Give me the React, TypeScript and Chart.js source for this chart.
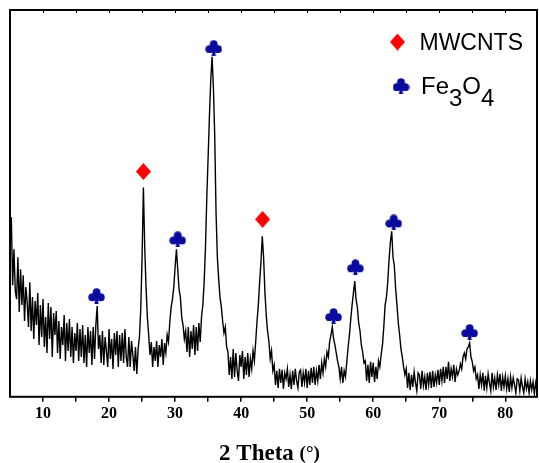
import React, { useEffect, useRef } from "react";
import { Chart, registerables } from "chart.js";

Chart.register(...registerables);

// 2θ grid of the scan (degrees)
const thetaStart = 5;
const thetaStep = 0.2;

// XRD intensity (a.u.), one value per 0.2° from 5.0° to 84.8°
const intensity = [
  150, 180, 112, 148, 106, // 5
  98, 140, 85, 128, 92, // 6
  122, 76, 110, 95, 70, // 7
  115, 66, 100, 58, 96, // 8
  72, 104, 52, 92, 60, // 9
  98, 50, 80, 44, 94, // 10
  58, 90, 40, 84, 62, // 11
  86, 44, 76, 38, 70, // 12
  52, 82, 36, 74, 46, // 13
  78, 40, 70, 34, 64, // 14
  46, 74, 36, 68, 40, // 15
  72, 34, 62, 30, 70, // 16
  44, 66, 32, 70, 38, // 17
  72, 91, 48, 62, 34, // 18
  66, 32, 60, 46, 30, // 19
  68, 38, 58, 28, 64, // 20
  42, 66, 30, 62, 36, // 21
  64, 34, 68, 40, 30, // 22
  60, 30, 56, 42, 26, // 23
  50, 23, 48, 60, 88, // 24
  140, 210, 150, 110, 80, // 25
  62, 42, 55, 30, 50, // 26
  36, 56, 30, 52, 40, // 27
  58, 32, 54, 44, 62, // 28
  55, 75, 90, 98, 110, // 29
  130, 148, 128, 108, 100, // 30
  80, 72, 58, 66, 45, // 31
  70, 40, 66, 48, 72, // 32
  42, 70, 46, 74, 55, // 33
  80, 92, 115, 150, 200, // 34
  240, 282, 318, 341, 310, // 35
  262, 185, 140, 118, 100, // 36
  90, 76, 64, 70, 50, // 37
  45, 22, 40, 18, 48, // 38
  20, 44, 26, 16, 42, // 39
  30, 46, 18, 40, 22, // 40
  44, 20, 38, 28, 46, // 41
  36, 55, 75, 92, 115, // 42
  135, 161, 140, 105, 82, // 43
  66, 56, 38, 46, 26, // 44
  32, 12, 26, 9, 28, // 45
  14, 27, 8, 24, 18, // 46
  28, 10, 22, 8, 26, // 47
  12, 28, 16, 9, 25, // 48
  27, 10, 24, 14, 28, // 49
  9, 26, 12, 29, 14, // 50
  30, 12, 26, 16, 32, // 51
  18, 34, 24, 38, 30, // 52
  45, 40, 55, 62, 70, // 53
  58, 52, 44, 36, 30, // 54
  18, 30, 14, 26, 20, // 55
  35, 50, 62, 78, 92, // 56
  104, 116, 98, 90, 74, // 57
  66, 52, 45, 34, 36, // 58
  16, 32, 14, 35, 20, // 59
  34, 15, 30, 18, 36, // 60
  30, 42, 52, 70, 92, // 61
  100, 115, 138, 155, 166, // 62
  140, 131, 108, 92, 74, // 63
  62, 48, 40, 30, 22, // 64
  28, 9, 24, 7, 22, // 65
  10, 25, 14, 6, 24, // 66
  22, 8, 26, 11, 20, // 67
  7, 24, 12, 25, 9, // 68
  26, 10, 22, 14, 27, // 69
  12, 28, 16, 30, 14, // 70
  30, 18, 35, 16, 28, // 71
  20, 32, 15, 28, 22, // 72
  26, 33, 28, 40, 44, // 73
  38, 48, 50, 54, 40, // 74
  35, 26, 30, 18, 22, // 75
  8, 22, 12, 24, 6, // 76
  21, 9, 23, 14, 6, // 77
  24, 10, 19, 7, 22, // 78
  12, 23, 6, 20, 10, // 79
  21, 8, 18, 5, 20, // 80
  9, 19, 12, 4, 18, // 81
  17, 6, 19, 10, 4, // 82
  18, 8, 15, 4, 16, // 83
  7, 15, 3, 14, 6, // 84
];

// Peak markers
const mwcntTheta = [25.2, 43.25];
const mwcntMark = [226, 178];
const fe3o4Theta = [18.1, 30.4, 35.85, 54.0, 57.3, 63.1, 74.6];
const fe3o4Mark = [101, 158, 350, 81, 130, 175, 65];

// Axis
const xMin = 5;
const xMax = 84.8;
const xLabelTicks = [10, 20, 30, 40, 50, 60, 70, 80];
const xTitle = "2 Theta";
const xUnit = "(°)";
const legendMwcnt = "MWCNTS";
const legendFe = ["Fe", "3", "O", "4"];

const CLUB_COLOR = "#0a0a9e";
const DIAMOND_COLOR = "#ff0000";

function makeDiamond(): HTMLCanvasElement {
  const c = document.createElement("canvas");
  c.width = 15;
  c.height = 17;
  const g = c.getContext("2d")!;
  g.fillStyle = DIAMOND_COLOR;
  g.beginPath();
  g.moveTo(7.5, 0);
  g.lineTo(15, 8.5);
  g.lineTo(7.5, 17);
  g.lineTo(0, 8.5);
  g.closePath();
  g.fill();
  return c;
}

function makeClub(): HTMLCanvasElement {
  const c = document.createElement("canvas");
  c.width = 17;
  c.height = 16;
  const g = c.getContext("2d")!;
  g.fillStyle = CLUB_COLOR;
  const r = 3.9;
  g.beginPath();
  g.arc(8.5, 4.2, r, 0, Math.PI * 2);
  g.fill();
  g.beginPath();
  g.arc(4.2, 9.2, r, 0, Math.PI * 2);
  g.fill();
  g.beginPath();
  g.arc(12.8, 9.2, r, 0, Math.PI * 2);
  g.fill();
  g.beginPath();
  g.moveTo(7.6, 7.5);
  g.lineTo(9.4, 7.5);
  g.lineTo(10.6, 16);
  g.lineTo(6.4, 16);
  g.closePath();
  g.fill();
  return c;
}

export default function App() {
  const ref = useRef<HTMLCanvasElement | null>(null);

  useEffect(() => {
    document.body.style.margin = "0";
    const canvas = ref.current;
    if (!canvas) return;

    const diamond = makeDiamond();
    const club = makeClub();

    const linePts = intensity.map((y, i) => ({ x: +(thetaStart + i * thetaStep).toFixed(2), y }));
    const mwPts = mwcntTheta.map((x, i) => ({ x, y: mwcntMark[i] }));
    const fePts = fe3o4Theta.map((x, i) => ({ x, y: fe3o4Mark[i] }));

    const framePlugin = {
      id: "frameAndLegend",
      afterDatasetsDraw(chart: any) {
        const { ctx, chartArea } = chart;
        const { left, right, top, bottom } = chartArea;
        const xs = chart.scales.x;
        ctx.save();
        ctx.strokeStyle = "#000";
        ctx.lineWidth = 2;
        ctx.strokeRect(left, top, right - left, bottom - top);
        ctx.lineWidth = 1;
        for (let v = 10; v <= 80; v += 5) {
          const px = Math.round(xs.getPixelForValue(v)) + 0.5;
          ctx.beginPath();
          ctx.moveTo(px, top);
          ctx.lineTo(px, top + 3);
          ctx.stroke();
        }
        ctx.restore();
      },
      afterDraw(chart: any) {
        const { ctx, chartArea } = chart;
        ctx.save();
        ctx.drawImage(diamond, 397.5 - 7.5, 42 - 8.5);
        ctx.fillStyle = "#000";
        ctx.textBaseline = "alphabetic";
        ctx.textAlign = "left";
        ctx.font = "23px 'Liberation Sans', Arial, sans-serif";
        ctx.fillText(legendMwcnt, 419.5, 49.5);
        ctx.drawImage(club, 401 - 8.5, 86 - 8);
        ctx.font = "24px 'Liberation Sans', Arial, sans-serif";
        let x = 421;
        const baselines = [94, 105.5, 94, 105.5];
        legendFe.forEach((t, i) => {
          ctx.fillText(t, x, baselines[i]);
          x += ctx.measureText(t).width;
        });
        ctx.font = "bold 23px 'Liberation Serif', 'Times New Roman', serif";
        const w1 = ctx.measureText(xTitle + " ").width;
        ctx.font = "bold 19px 'Liberation Serif', 'Times New Roman', serif";
        const w2 = ctx.measureText(xUnit).width;
        const cx = (chartArea.left + chartArea.right) / 2 - 4;
        const tx = cx - (w1 + w2) / 2;
        ctx.font = "bold 23px 'Liberation Serif', 'Times New Roman', serif";
        ctx.fillText(xTitle + " ", tx, 460);
        ctx.font = "bold 19px 'Liberation Serif', 'Times New Roman', serif";
        ctx.fillText(xUnit, tx + w1, 459);
        ctx.restore();
      },
    };

    const chart = new Chart(canvas, {
      type: "line",
      data: {
        datasets: [
          {
            type: "line",
            label: "XRD",
            data: linePts,
            borderColor: "#000",
            borderWidth: 1.4,
            pointRadius: 0,
            tension: 0,
            order: 2,
          } as any,
          {
            type: "scatter",
            label: legendMwcnt,
            data: mwPts,
            pointStyle: diamond,
            pointRadius: 8,
            clip: false,
            order: 1,
          } as any,
          {
            type: "scatter",
            label: "Fe3O4",
            data: fePts,
            pointStyle: club,
            pointRadius: 8,
            clip: false,
            order: 1,
          } as any,
        ],
      },
      options: {
        responsive: false,
        animation: false,
        events: [],
        layout: { autoPadding: false, padding: { left: 10, right: 2, top: 10, bottom: 38 } },
        plugins: {
          legend: { display: false },
          tooltip: { enabled: false },
          title: { display: false },
        },
        scales: {
          x: {
            type: "linear",
            min: xMin,
            max: xMax,
            afterBuildTicks: (axis: any) => {
              const t: any[] = [];
              for (let v = 10; v <= 80; v += 5) t.push({ value: v });
              axis.ticks = t;
            },
            afterFit: (axis: any) => {
              axis.paddingLeft = 0;
              axis.paddingRight = 0;
            },
            ticks: {
              autoSkip: false,
              maxRotation: 0,
              padding: 2,
              color: "#000",
              font: { family: "'Liberation Serif', 'Times New Roman', serif", size: 16, weight: "bold" },
              callback: (v: any) => (xLabelTicks.includes(Number(v)) ? String(v) : ""),
            },
            grid: {
              drawOnChartArea: false,
              drawTicks: true,
              tickLength: 5,
              color: "#000",
              lineWidth: 1.5,
            },
            border: { display: false },
          },
          y: {
            display: false,
            min: 0,
            max: 388,
          },
        },
      } as any,
      plugins: [framePlugin],
    });

    return () => chart.destroy();
  }, []);

  return (
    <div style={{ width: 539, height: 463, position: "relative", background: "#fff" }}>
      <canvas ref={ref} width={539} height={463} style={{ display: "block" }} />
    </div>
  );
}
